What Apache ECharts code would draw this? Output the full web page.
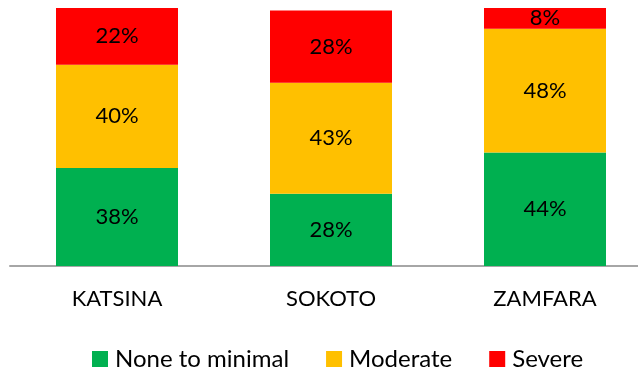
<!DOCTYPE html>
<html>
<head>
<meta charset="utf-8">
<style>
  html, body { margin: 0; padding: 0; background: #ffffff; overflow: hidden; }
  #chart { width: 652px; height: 371px; }
</style>
<script src="https://cdn.jsdelivr.net/npm/echarts@6/dist/echarts.min.js"></script>
</head>
<body>
<div id="chart"></div>
<script>
// States surveyed
const states = ['KATSINA', 'SOKOTO', 'ZAMFARA'];
// Share of respondents per severity level (%)
const noneToMinimal = [38, 28, 44];
const moderate = [40, 43, 48];
const severe = [22, 28, 8];

const seriesNames = ['None to minimal', 'Moderate', 'Severe'];
const seriesColors = ['#00B050', '#FFC000', '#FF0000'];
const FONT = 'Lato';

const chart = echarts.init(document.getElementById('chart'), null, { renderer: 'canvas' });

function makeSeries(name, data, color) {
  return {
    name: name,
    type: 'bar',
    stack: 'total',
    data: data,
    barWidth: 122,
    itemStyle: { color: color },
    label: {
      show: true,
      position: 'inside',
      formatter: p => p.value + '%',
      color: '#000000',
      fontFamily: FONT,
      fontSize: 22
    },
    emphasis: { disabled: true }
  };
}

chart.setOption({
  animation: false,
  backgroundColor: '#ffffff',
  // plot area runs past the right edge of the visible page
  grid: { left: 10, right: 0, top: 8, bottom: 105, containLabel: false },
  xAxis: {
    type: 'category',
    data: states,
    axisLine: { show: true, lineStyle: { color: '#A6A6A6', width: 2 } },
    axisTick: { show: false },
    axisLabel: { color: '#000000', fontFamily: FONT, fontSize: 22, margin: 22 }
  },
  yAxis: {
    type: 'value',
    min: 0,
    max: 100,
    show: false
  },
  legend: {
    data: seriesNames,
    left: 92,
    top: 347,
    padding: 0,
    itemWidth: 16,
    itemHeight: 16,
    itemGap: 37,
    icon: 'rect',
    textStyle: { color: '#000000', fontFamily: FONT, fontSize: 24, padding: [0, 0, 0, 2] }
  },
  series: [
    makeSeries(seriesNames[0], noneToMinimal, seriesColors[0]),
    makeSeries(seriesNames[1], moderate, seriesColors[1]),
    makeSeries(seriesNames[2], severe, seriesColors[2])
  ]
});
</script>
</body>
</html>
